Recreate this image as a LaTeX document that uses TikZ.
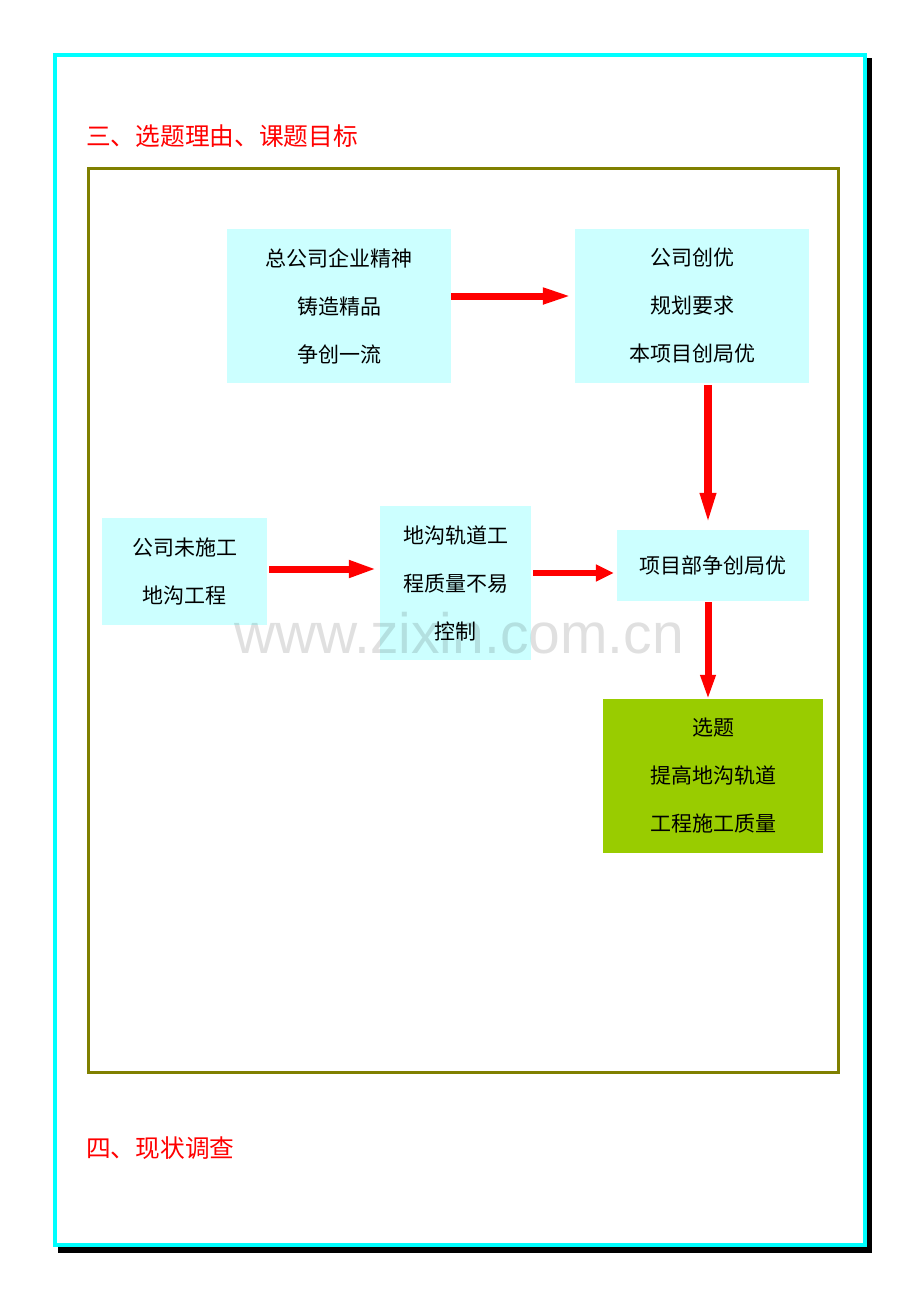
\documentclass[tikz,border=0pt]{standalone}
\usepackage{fontspec}
\setmainfont{Noto Sans CJK SC}
\newfontfamily\markfont{Liberation Sans}
\usetikzlibrary{arrows.meta}

\definecolor{boxcyan}{RGB}{204,255,255}
\definecolor{boxgreen}{RGB}{153,204,0}
\definecolor{frameolive}{RGB}{128,128,0}
\definecolor{framecyan}{RGB}{0,255,255}

\begin{document}
\begin{tikzpicture}[x=1pt, y=-1pt,
    every node/.style={inner sep=0pt},
    infobox/.style={fill=boxcyan, align=center, font=\fontsize{21}{48}\selectfont},
    goalbox/.style={infobox, fill=boxgreen},
    heading/.style={anchor=west, text=red, font=\fontsize{24.7}{30}\selectfont},
    flow/.style={draw=red, line width=7pt, -{Triangle[length=28pt,width=16pt]}}]

    \useasboundingbox (0,0) rectangle (920,1302);

    % page frame with shadow
    \fill[black] (58,58) rectangle (872,1253);
    \draw[framecyan, fill=white, line width=4.5pt] (55,55) rectangle (865,1245);
    \draw[frameolive, line width=3pt] (88.5,168.5) rectangle (838,1072);

    \node[heading] (title1) at (86,136) {三、选题理由、课题目标};
    \node[heading] (title2) at (86,1148) {四、现状调查};

    \node[infobox, minimum width=224pt, minimum height=154pt] (spirit) at (339,306)
        {总公司企业精神\\铸造精品\\争创一流};
    \node[infobox, minimum width=234pt, minimum height=154pt] (plan) at (692,306)
        {公司创优\\规划要求\\本项目创局优};
    \node[infobox, minimum width=165pt, minimum height=107pt] (company) at (184.5,571.5)
        {公司未施工\\地沟工程};
    \node[infobox, minimum width=151pt, minimum height=154pt] (quality) at (455.5,583)
        {地沟轨道工\\程质量不易\\控制};
    \node[infobox, minimum width=192pt, minimum height=71pt] (project) at (713,565.5)
        {项目部争创局优};
    \node[goalbox, minimum width=220pt, minimum height=154pt] (topic) at (713,776)
        {选题\\提高地沟轨道\\工程施工质量};

    \draw[flow, -{Triangle[length=29pt,width=15pt]}] ([yshift=10pt]spirit.east) -- ([xshift=-3pt,yshift=10pt]plan.west);
    \draw[flow, line width=8pt, -{Triangle[length=34pt,width=14pt]}] ([xshift=16pt,yshift=-2pt]plan.south) -- ([xshift=-5pt,yshift=3pt]project.north);
    \draw[flow] ([xshift=2pt,yshift=2.5pt]company.east) -- ([xshift=-3pt,yshift=14pt]quality.west);
    \draw[flow, line width=6pt, -{Triangle[length=18pt,width=16pt]}] ([xshift=2pt,yshift=10pt]quality.east) -- ([xshift=-3pt,yshift=-7.5pt]project.west);
    \draw[flow, -{Triangle[length=25pt,width=14pt]}] ([xshift=-5pt,yshift=-1pt]project.south) -- ([xshift=-5pt,yshift=-1pt]topic.north);

    \node[text=black, opacity=0.12, font=\markfont\fontsize{57}{60}\selectfont] (mark) at (459,633) {www.zixin.com.cn};
\end{tikzpicture}
\end{document}
